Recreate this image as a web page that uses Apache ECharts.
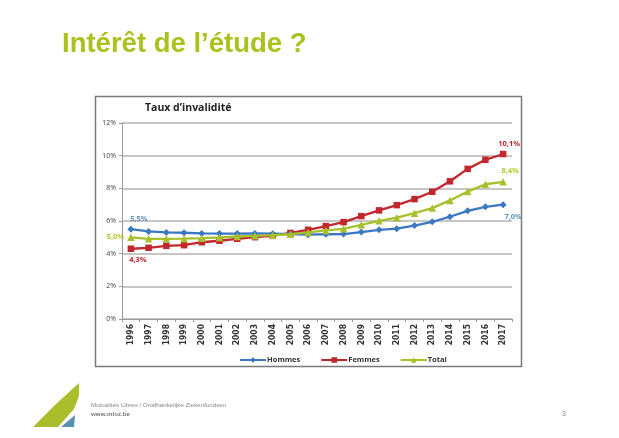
<!DOCTYPE html>
<html>
<head>
<meta charset="utf-8">
<script src="https://cdn.jsdelivr.net/npm/echarts@6/dist/echarts.min.js"></script>
<style>
  html, body { margin: 0; padding: 0; background: #fff; }
  #main { width: 619px; height: 438px; }
</style>
</head>
<body>
<div id="main"></div>
<script>
// donnees
var years = ['1996','1997','1998','1999','2000','2001','2002','2003','2004','2005','2006',
             '2007','2008','2009','2010','2011','2012','2013','2014','2015','2016','2017'];
var hommes = [5.5, 5.36, 5.3, 5.28, 5.24, 5.23, 5.23, 5.24, 5.22, 5.2, 5.16,
              5.19, 5.2, 5.32, 5.46, 5.53, 5.72, 5.95, 6.26, 6.62, 6.87, 7.0];
var femmes = [4.3, 4.36, 4.48, 4.52, 4.7, 4.79, 4.91, 5.01, 5.09, 5.27, 5.46,
              5.69, 5.93, 6.3, 6.65, 6.97, 7.34, 7.79, 8.43, 9.19, 9.75, 10.1];
var total = [5.0, 4.91, 4.91, 4.92, 4.95, 4.99, 5.05, 5.09, 5.13, 5.19, 5.3,
             5.42, 5.52, 5.77, 6.01, 6.2, 6.48, 6.79, 7.26, 7.8, 8.25, 8.4];
var yTicks = [0, 2, 4, 6, 8, 10, 12];

var cBlue = '#3c78c2', cRed = '#c1272d', cGreen = '#a6c12b';

function pct(v) {
    return v.toFixed(1).replace('.', ',') + '%';
}

// premiere et derniere valeur avec etiquette
function withLabels(arr, color, firstPos, firstOff, lastPos, lastOff) {
    return arr.map(function(v, i) {
        if (i === 0 || i === arr.length - 1) {
            return {
                value: v,
                label: {
                    show: true,
                    position: i === 0 ? firstPos : lastPos,
                    offset: i === 0 ? firstOff : lastOff,
                    distance: 3,
                    formatter: pct(v),
                    color: color,
                    fontSize: 7.5,
                    fontWeight: 'bold',
                    fontFamily: 'Open Sans'
                }
            };
        }
        return v;
    });
}

var myChart = echarts.init(document.getElementById('main'));
var option = {
    backgroundColor: '#fff',
    animation: false,
    grid: { left: 122, right: 107, top: 123, bottom: 119 },
    legend: {
        left: 234, top: 351,
        itemWidth: 26, itemHeight: 7, itemGap: 20,
        textStyle: { fontSize: 7.5, color: '#333', fontFamily: 'Open Sans', fontWeight: 'bold', padding: [0, 0, 0, -4] },
        data: ['Hommes', 'Femmes', 'Total']
    },
    xAxis: {
        type: 'category',
        data: years,
        boundaryGap: true,
        axisLine: { lineStyle: { color: '#999', width: 1 } },
        axisTick: { show: true, length: 3, lineStyle: { color: '#999' } },
        axisLabel: { rotate: 90, fontSize: 8.5, color: '#333', fontFamily: 'DejaVu Sans Condensed', fontWeight: 'bold', margin: 5 }
    },
    yAxis: {
        type: 'value',
        min: 0, max: 12, interval: 2,
        axisLine: { show: true, lineStyle: { color: '#999' } },
        axisTick: { show: true, length: 3, lineStyle: { color: '#999' } },
        splitLine: { lineStyle: { color: '#b3b3b3', width: 1.5 } },
        axisLabel: { fontSize: 7, color: '#444', fontFamily: 'Open Sans', margin: 6,
                     formatter: function(v) { return v + '%'; } }
    },
    series: [
        {
            name: 'Hommes', type: 'line', data: withLabels(hommes, '#5e93b8', 'top', [8, 0], 'bottom', [10, 2]),
            symbol: 'diamond', symbolSize: 7, color: cBlue,
            lineStyle: { width: 2.3, color: cBlue }, z: 3
        },
        {
            name: 'Femmes', type: 'line', data: withLabels(femmes, cRed, 'bottom', [7, 1], 'top', [6, 0]),
            symbol: 'rect', symbolSize: 6.5, color: cRed,
            lineStyle: { width: 2.3, color: cRed }, z: 2
        },
        {
            name: 'Total', type: 'line', data: withLabels(total, '#b6c72a', 'left', [0, 0], 'top', [7, 0]),
            symbol: 'triangle', symbolSize: 7.5, color: cGreen,
            lineStyle: { width: 2.3, color: cGreen }, z: 4
        }
    ],
    graphic: [
        // cadre du graphique
        { type: 'rect', shape: { x: 95.5, y: 96.5, width: 426, height: 270 }, z: -1,
          style: { fill: 'none', stroke: '#7a7a7a', lineWidth: 1.5 } },
        { type: 'text', left: 145, top: 103,
          style: { text: 'Taux d\u2019invalidit\u00e9', fontSize: 10.5, fontWeight: 'bold', fill: '#222', fontFamily: 'Open Sans' } },
        // titre de la page
        { type: 'text', left: 62, top: 30,
          style: { text: 'Int\u00e9r\u00eat de l\u2019\u00e9tude ?', fontSize: 27.5, fontWeight: 'bold', fill: '#aac11e', fontFamily: 'Liberation Sans' } },
        // logo
        { type: 'polygon', shape: { points: [[33, 427], [58, 427], [74, 409], [79, 396], [79, 383], [55, 405]] },
          style: { fill: '#aabd2a' } },
        { type: 'polygon', shape: { points: [[61, 427], [74, 427], [75, 415]] },
          style: { fill: '#5b8fae' } },
        { type: 'text', left: 91, top: 402,
          style: { text: 'Mutualit\u00e9s Libres / Onafhankelijke Ziekenfondsen', fontSize: 6.2, fill: '#888', fontFamily: 'Liberation Sans' } },
        { type: 'text', left: 91, top: 411,
          style: { text: 'www.mloz.be', fontSize: 6.2, fontWeight: 'bold', fill: '#777', fontFamily: 'Liberation Sans' } },
        { type: 'text', left: 562, top: 411,
          style: { text: '3', fontSize: 7, fill: '#888', fontFamily: 'Liberation Sans' } }
    ]
};
myChart.setOption(option);
</script>
</body>
</html>
